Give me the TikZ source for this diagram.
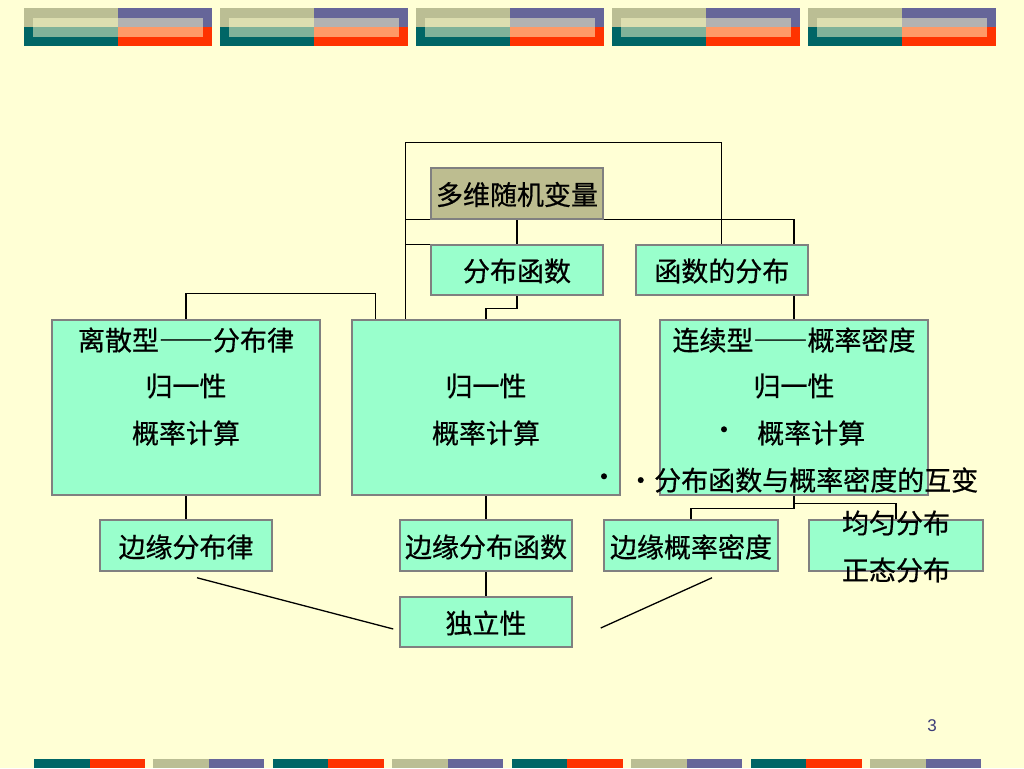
\documentclass[tikz,border=0pt]{standalone}
\usepackage{fontspec}
\newfontfamily\cjk[FakeBold=0.6]{Noto Sans CJK SC}
\newfontfamily\cjkfw[CharacterWidth=Full,FakeBold=0.6]{Noto Sans CJK SC}
\newfontfamily\latn{Liberation Sans}
\usetikzlibrary{calc}
\pgfdeclarelayer{bglayer}
\pgfdeclarelayer{connlayer}
\pgfsetlayers{bglayer,connlayer,main}
\definecolor{bg}{HTML}{FFFFD5}
\definecolor{olive}{HTML}{BBBE94}
\definecolor{purp}{HTML}{666699}
\definecolor{teal}{HTML}{006666}
\definecolor{redo}{HTML}{FF3300}
\definecolor{veil}{HTML}{FFFFCC}
\definecolor{mint}{HTML}{99FFCC}
\definecolor{topfill}{HTML}{BDBD90}
\definecolor{boxgray}{HTML}{808080}
\definecolor{numblue}{HTML}{3C3C78}
\begin{document}
\begin{tikzpicture}[x=1pt,y=-1pt,
  box/.style={draw=boxgray, line width=1.5pt, fill=mint, inner sep=0pt},
  txt/.style={inner sep=0pt, font=\cjk\fontsize{27}{27}\selectfont, text=black},
  conn/.style={draw=black, line width=1.3pt}]
\useasboundingbox (0,0) rectangle (1024,768);
\begin{pgfonlayer}{bglayer}
\fill[bg] (0,0) rectangle (1024,768);
% top decorative bar
\foreach \x in {24,220,416,612,808}{
  \fill[olive] (\x,8) rectangle ++(94,19);
  \fill[purp] (\x+94,8) rectangle ++(94,19);
  \fill[teal] (\x,27) rectangle ++(94,19);
  \fill[redo] (\x+94,27) rectangle ++(94,19);
  \fill[veil, fill opacity=0.5] (\x+9,18) rectangle (\x+179,36.7);
}
% bottom decorative bar
\foreach \i in {0,2,4,6}{
  \fill[teal] (34+119.43*\i,759) rectangle ++(55.5,9);
  \fill[redo] (34+119.43*\i+55.5,759) rectangle ++(55.5,9);
}
\foreach \i in {1,3,5,7}{
  \fill[olive] (34+119.43*\i,759) rectangle ++(55.5,9);
  \fill[purp] (34+119.43*\i+55.5,759) rectangle ++(55.5,9);
}
\end{pgfonlayer}
% boxes
\node[box, fill=topfill, minimum width=172pt, minimum height=51pt] (top) at (517,193.5) {};
\node[box, minimum width=172pt, minimum height=50pt] (fb) at (517,270) {};
\node[box, minimum width=172pt, minimum height=50pt] (hf) at (721.8,270) {};
\node[box, minimum width=268pt, minimum height=175pt] (ls) at (186,407.5) {};
\node[box, minimum width=268pt, minimum height=175pt] (mid) at (486,407.5) {};
\node[box, minimum width=268pt, minimum height=175pt] (lx) at (794,407.5) {};
\node[box, minimum width=172pt, minimum height=51pt] (by) at (186,545.5) {};
\node[box, minimum width=172pt, minimum height=51pt] (bf) at (486,545.5) {};
\node[box, minimum width=174pt, minimum height=51pt] (bm) at (691,545.5) {};
\node[box, minimum width=174pt, minimum height=51pt] (ud) at (896,545.5) {};
\node[box, minimum width=172pt, minimum height=50pt] (ind) at (486,622) {};
% connectors
\coordinate (k) at ($(mid.north west)+(54,0)$);
\coordinate (k2) at ($(mid.north west)+(24,0)$);
\coordinate (d1) at ($(by.south)+(11,6)$);
\coordinate (d2) at ($(ind.west)+(-6,7)$);
\coordinate (d3) at ($(ind.east)+(28,6)$);
\coordinate (d4) at ($(bm.south)+(21,6)$);
\begin{pgfonlayer}{connlayer}
\draw[conn] (k) |- ($(hf.north)+(0,-102)$) -- (hf.north);
\draw[conn] (k) |- (lx.north |- top.south) -- (lx.north);
\draw[conn] (k) |- (fb.north west);
\draw[conn] (top.south) -- (fb.north);
\draw[conn] (fb.south) -- ++(0,13) -| (mid.north);
\draw[conn] (ls.north) -- ++(0,-26) -| (k2);
\draw[conn] (ls.south) -- (by.north);
\draw[conn] (mid.south) -- (bf.north);
\draw[conn] (bf.south) -- (ind.north);
\draw[conn] (d1) -- (d2);
\draw[conn] (d3) -- (d4);
\draw[conn] (lx.south) -- ++(0,13) -| (bm.north);
\draw[conn] (lx.south) -- ++(0,8) -| (ud.north);
\end{pgfonlayer}
% texts
\node[txt] (t0) at (517,194.5) {多维随机变量};
\node[txt] (t1) at (517,271) {分布函数};
\node[txt] (t2) at (721.8,271) {函数的分布};
\node[txt] (l1) at (186,340) {离散型{\cjkfw ——}分布律};
\node[txt] (l2) at (186,386) {归一性};
\node[txt] (l3) at (186,433) {概率计算};
\node[txt] (m2) at (486,386) {归一性};
\node[txt] (m3) at (486,433) {概率计算};
\node[txt] (r1) at (794,340) {连续型{\cjkfw ——}概率密度};
\node[txt] (r2) at (794,386) {归一性};
\node[txt] (r3b) at (724,433) {•};
\node[txt, anchor=west] (r3) at (757,433) {概率计算};
\node[txt] (r4b) at (604,480) {•};
\node[txt, anchor=west] (r4) at (627,480) {·分布函数与概率密度的互变};
\node[txt] (e1) at (186,547) {边缘分布律};
\node[txt] (e2) at (486,547) {边缘分布函数};
\node[txt] (e3) at (691,547) {边缘概率密度};
\node[txt] (u1) at (896,523) {均匀分布};
\node[txt] (u2) at (896,570) {正态分布};
\node[txt] (t3) at (486,623) {独立性};
\node[inner sep=0pt, font=\latn\fontsize{17}{17}\selectfont, text=numblue] (pn) at (932,726) {3};
\end{tikzpicture}
\end{document}
